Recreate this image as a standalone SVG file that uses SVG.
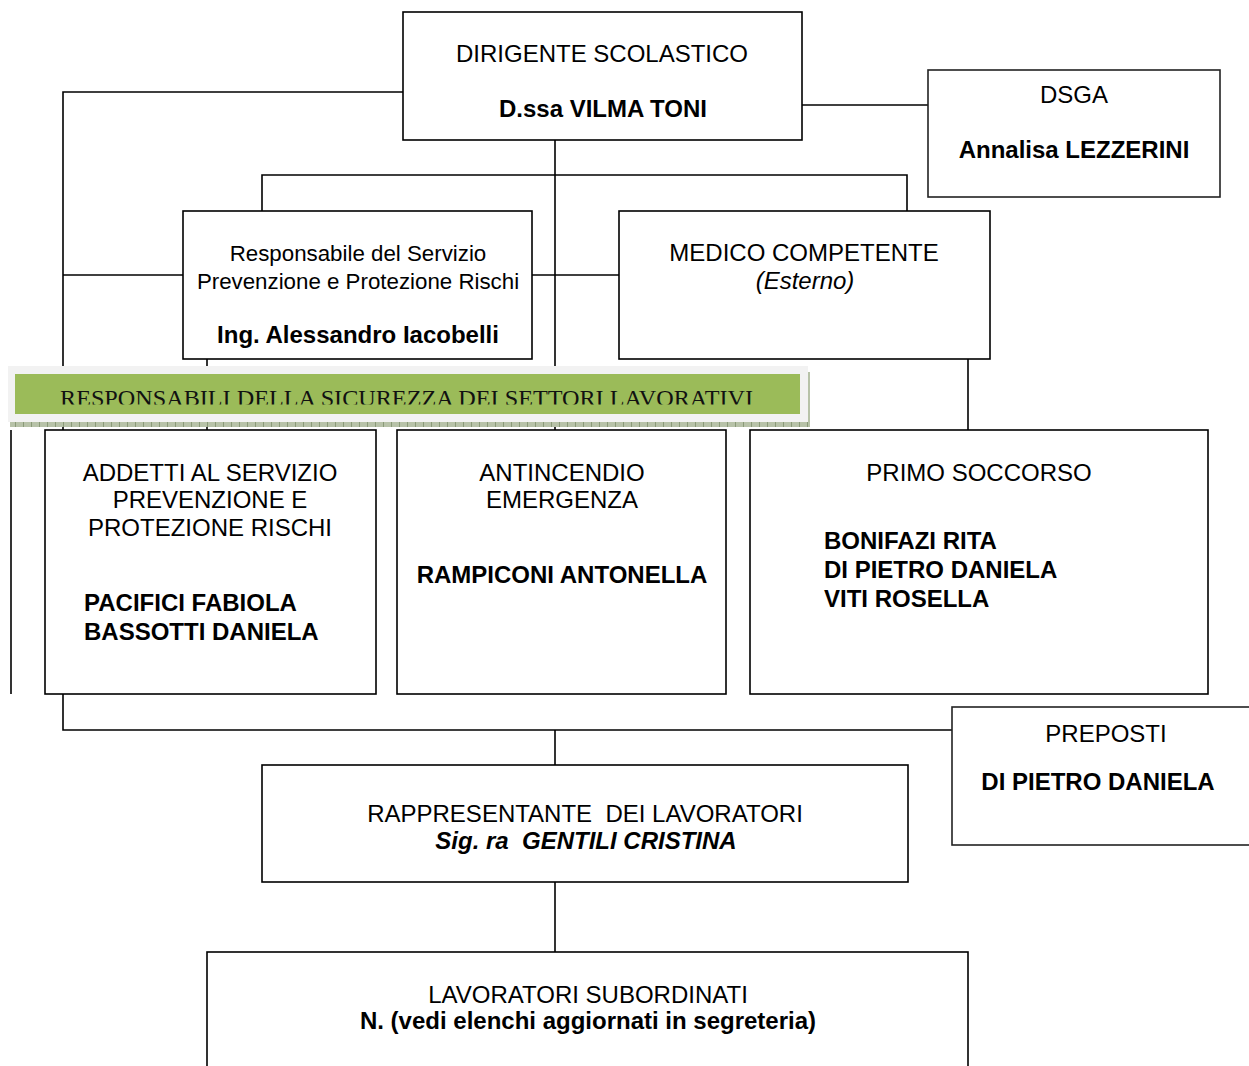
<svg xmlns="http://www.w3.org/2000/svg" width="1249" height="1066" viewBox="0 0 1249 1066">
<defs>
<style>
.box{fill:#fff;stroke:#000;stroke-width:1.6}
.ln{fill:none;stroke:#000;stroke-width:1.6}
text{font-family:"Liberation Sans",Arial,sans-serif;font-size:24px;fill:#000;white-space:pre}
.c{text-anchor:middle}
.b{font-weight:bold}
.i{font-style:italic}
.s{font-size:22.3px}
.ban{font-family:"Liberation Serif","Times New Roman",serif;font-size:24px;fill:#111}
</style>
<clipPath id="banclip"><rect x="15" y="374" width="785" height="30.5"/></clipPath>
<pattern id="shadow" width="8" height="6" patternUnits="userSpaceOnUse">
<rect width="8" height="6" fill="#b7c2a8"/>
<rect x="7" width="1" height="6" fill="#8a9a78"/>
</pattern>
</defs>
<g id="connectors">
<path class="ln" d="M403,92 H63 V730 H952"/>
<path class="ln" d="M63,275 H183"/>
<path class="ln" d="M11,430 V694"/>
<path class="ln" d="M802,105 H928"/>
<path class="ln" d="M555,140 V430"/>
<path class="ln" d="M262,211 V175 H907 V211"/>
<path class="ln" d="M532,275 H619"/>
<path class="ln" d="M207,359 V430"/>
<path class="ln" d="M968,359 V430"/>
<path class="ln" d="M555,730 V765"/>
<path class="ln" d="M555,882 V952"/>
</g>
<g id="banner">
<rect x="10" y="421" width="800" height="6" fill="url(#shadow)"/>
<rect x="807" y="372" width="3" height="55" fill="url(#shadow)"/>
<rect x="8" y="366" width="800" height="56" fill="#f2f2f2"/>
<rect x="15" y="374" width="785" height="40" fill="#9bbb59"/>
<text class="ban" x="60" y="406" textLength="693" lengthAdjust="spacingAndGlyphs" clip-path="url(#banclip)">RESPONSABILI DELLA SICUREZZA DEI SETTORI LAVORATIVI</text>
</g>
<g id="dirigente">
<rect class="box" x="403" y="12" width="399" height="128"/>
<text class="c" x="602" y="62">DIRIGENTE SCOLASTICO</text>
<text class="c b" x="603" y="117">D.ssa VILMA TONI</text>
</g>
<g id="dsga">
<rect class="box" x="928" y="70" width="292" height="127" style="stroke:#222"/>
<text class="c" x="1074" y="103">DSGA</text>
<text class="c b" x="1074" y="158">Annalisa LEZZERINI</text>
</g>
<g id="rspp">
<rect class="box" x="183" y="211" width="349" height="148"/>
<text class="c s" x="358" y="261">Responsabile del Servizio</text>
<text class="c s" x="358" y="289">Prevenzione e Protezione Rischi</text>
<text class="c b" x="358" y="343">Ing. Alessandro Iacobelli</text>
</g>
<g id="medico">
<rect class="box" x="619" y="211" width="371" height="148"/>
<text class="c" x="804" y="261">MEDICO COMPETENTE</text>
<text class="c i" x="805" y="289">(Esterno)</text>
</g>
<g id="addetti">
<rect class="box" x="45" y="430" width="331" height="264"/>
<text class="c" x="210" y="481">ADDETTI AL SERVIZIO</text>
<text class="c" x="210" y="508">PREVENZIONE E</text>
<text class="c" x="210" y="536">PROTEZIONE RISCHI</text>
<text class="b" x="84" y="611">PACIFICI FABIOLA</text>
<text class="b" x="84" y="640">BASSOTTI DANIELA</text>
</g>
<g id="antincendio">
<rect class="box" x="397" y="430" width="329" height="264"/>
<text class="c" x="562" y="481">ANTINCENDIO</text>
<text class="c" x="562" y="508">EMERGENZA</text>
<text class="c b" x="562" y="583">RAMPICONI ANTONELLA</text>
</g>
<g id="primo-soccorso">
<rect class="box" x="750" y="430" width="458" height="264"/>
<text class="c" x="979" y="481">PRIMO SOCCORSO</text>
<text class="b" x="824" y="549">BONIFAZI RITA</text>
<text class="b" x="824" y="578">DI PIETRO DANIELA</text>
<text class="b" x="824" y="607">VITI ROSELLA</text>
</g>
<g id="preposti">
<rect class="box" x="952" y="707" width="310" height="138" style="stroke:#222"/>
<text class="c" x="1106" y="742">PREPOSTI</text>
<text class="c b" x="1098" y="790">DI PIETRO DANIELA</text>
</g>
<g id="rappresentante">
<rect class="box" x="262" y="765" width="646" height="117"/>
<text class="c" x="585" y="822">RAPPRESENTANTE  DEI LAVORATORI</text>
<text class="c b i" x="586" y="849">Sig. ra  GENTILI CRISTINA</text>
</g>
<g id="lavoratori">
<rect class="box" x="207" y="952" width="761" height="130"/>
<text class="c" x="588" y="1003">LAVORATORI SUBORDINATI</text>
<text class="c b" x="588" y="1029">N. (vedi elenchi aggiornati in segreteria)</text>
</g>
</svg>
